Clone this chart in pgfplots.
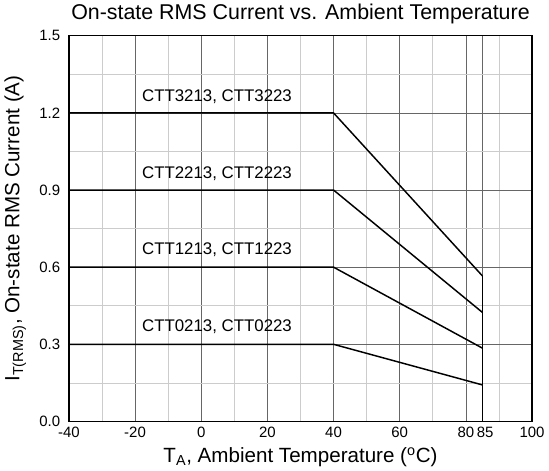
\documentclass[border=0pt]{standalone}
\usepackage{pgfplots}
\pgfplotsset{compat=1.18}
\usepackage{fontspec}
\setmainfont{Liberation Sans}

\begin{document}
\begin{tikzpicture}
  \begin{axis}[
      scale only axis,
      width=346.5pt, height=288.5pt,
      xmin=-40, xmax=100, ymin=0, ymax=1.5,
      xtick={-40,-20,0,20,40,60,80,85,100},
      xticklabels={-40,-20,0,20,40,60,80,{\hspace*{4pt}85},100},
      minor xtick={-30,-10,10,30,50,70,90},
      ytick={0,0.3,0.6,0.9,1.2,1.5},
      minor ytick={0.15,0.45,0.75,1.05,1.35},
      yticklabel style={xshift=-3pt, /pgf/number format/.cd,fixed,fixed zerofill,precision=1},
      /pgf/number format/assume math mode=true,
      major tick length=0pt, minor tick length=0pt,
      grid=both,
      major grid style={black!60, line width=0.5pt},
      minor grid style={black!20, line width=0.5pt},
      axis line style={line width=1pt},
      tick label style={font=\fontsize{11.2}{13}\selectfont},
      xticklabel style={yshift=-1pt},
      title={On-state RMS Current vs. Ambient Temperature},
      title style={font=\fontsize{16}{18}\selectfont, yshift=-1pt},
      xlabel={T\textsubscript{A}, Ambient Temperature (\textsuperscript{o}C)},
      ylabel={I\textsubscript{T(RMS)}, On-state RMS Current (A)},
      label style={font=\fontsize{15.4}{17}\selectfont},
      xlabel style={yshift=0pt},
      ylabel style={yshift=3pt},
      clip=false,
    ]
    \addplot[black, line width=1.1pt] coordinates {(-40,1.2) (40,1.2) (85,0.566)};
    \addplot[black, line width=1.1pt] coordinates {(-40,0.9) (40,0.9) (85,0.424)};
    \addplot[black, line width=1.1pt] coordinates {(-40,0.6) (40,0.6) (85,0.285)};
    \addplot[black, line width=1.1pt] coordinates {(-40,0.3) (40,0.3) (85,0.142)};
    \addplot[black, line width=1.1pt] coordinates {(85,0) (85,0.566)};
    \node[anchor=west, font=\fontsize{12.6}{14}\selectfont] at (axis cs:-19.3,1.265) {CTT3213, CTT3223};
    \node[anchor=west, font=\fontsize{12.6}{14}\selectfont] at (axis cs:-19.3,0.963) {CTT2213, CTT2223};
    \node[anchor=west, font=\fontsize{12.6}{14}\selectfont] at (axis cs:-19.3,0.668) {CTT1213, CTT1223};
    \node[anchor=west, font=\fontsize{12.6}{14}\selectfont] at (axis cs:-19.3,0.367) {CTT0213, CTT0223};
  \end{axis}
\end{tikzpicture}
\end{document}
